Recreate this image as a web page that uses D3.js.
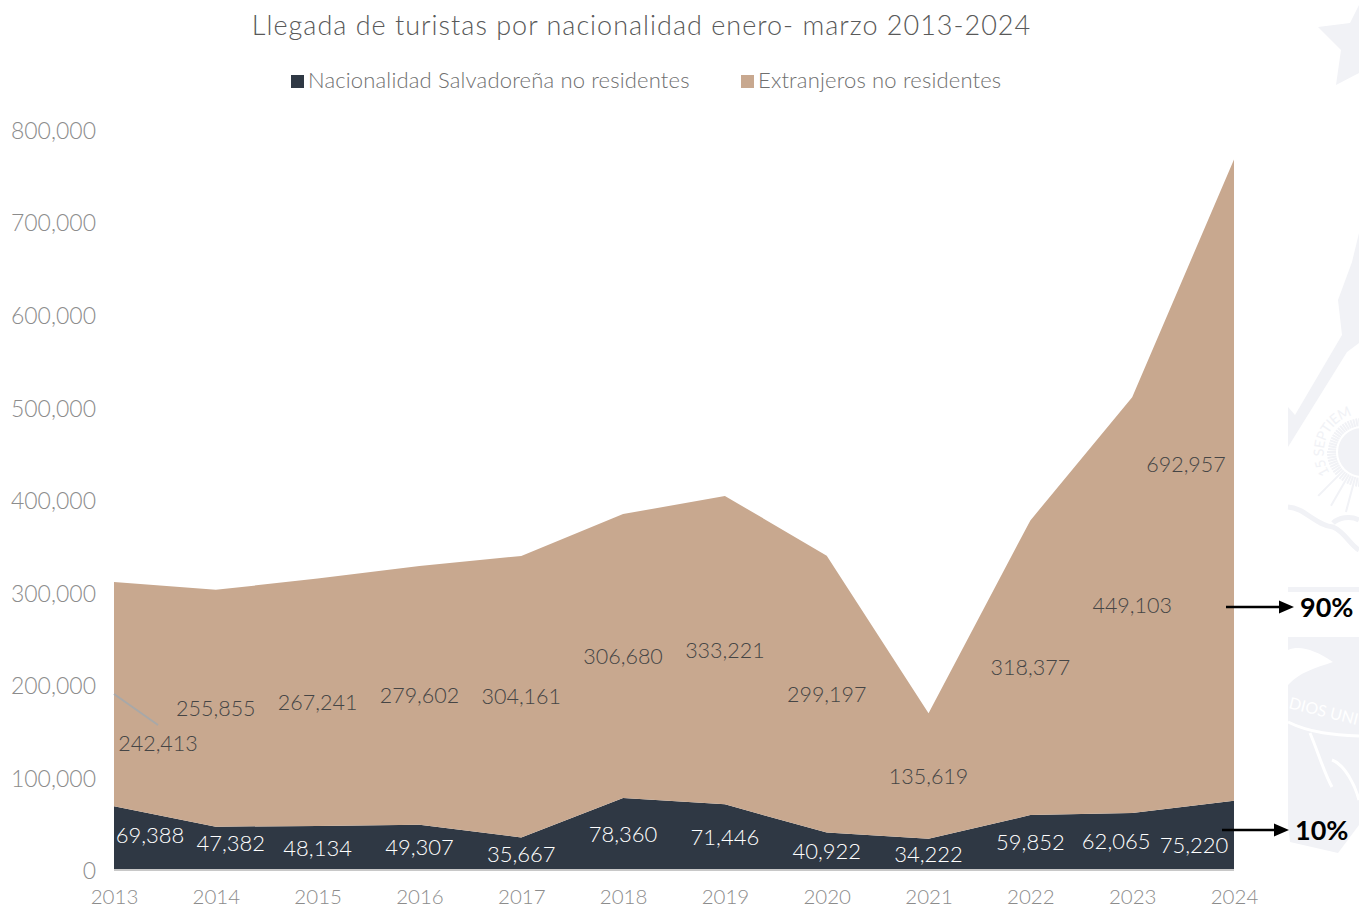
<!DOCTYPE html>
<html><head><meta charset="utf-8">
<script src="https://cdn.jsdelivr.net/npm/d3@7/dist/d3.min.js"></script>
<style>html,body{margin:0;padding:0;background:#fff}svg{display:block}text{font-family:Lato,sans-serif;font-weight:300}</style>
</head><body><svg id="c" width="1359" height="908"></svg>
<script>
const years=[2013,2014,2015,2016,2017,2018,2019,2020,2021,2022,2023,2024];
const salvadorenos=[69388,47382,48134,49307,35667,78360,71446,40922,34222,59852,62065,75220];
const extranjeros=[242413,255855,267241,279602,304161,306680,333221,299197,135619,318377,449103,692957];
const yTicks=[0,100000,200000,300000,400000,500000,600000,700000,800000];
const legendNames=["Nacionalidad Salvadoreña no residentes","Extranjeros no residentes"];
const titleText="Llegada de turistas por nacionalidad enero- marzo 2013-2024";
const shareLabels=["90%","10%"];

const svg=d3.select("#c");
const x=d3.scaleLinear().domain([2013,2024]).range([114,1234]);
const y=d3.scaleLinear().domain([0,800000]).range([870.5,130]);
const fmt=d3.format(",");
const W="#f1f2f6";

// watermark
const wm=svg.append("g");
const poly=(p,f)=>wm.append("path").attr("d",p).attr("fill",f||W);
poly("M1318,27L1350,23L1359,5V73L1336,85L1341,50Z");
poly("M1359,233L1352,262L1338,300L1342,335L1295,415L1288,407V447L1347,352L1359,343Z");
const sun=wm.append("g").attr("transform","translate(1362,452)");
sun.append("circle").attr("r",24).attr("fill",W);
d3.range(180,275,5).forEach(a=>{const r=a*Math.PI/180,o=(a<235&&a%15==0)?62:35;
 sun.append("line").attr("x1",26*Math.sin(r)).attr("y1",-26*Math.cos(r)).attr("x2",o*Math.sin(r)).attr("y2",-o*Math.cos(r)).attr("stroke",W).attr("stroke-width",2);});
d3.range(275,360,5).forEach(a=>{const r=a*Math.PI/180;
 sun.append("line").attr("x1",26*Math.sin(r)).attr("y1",-26*Math.cos(r)).attr("x2",34*Math.sin(r)).attr("y2",-34*Math.cos(r)).attr("stroke",W).attr("stroke-width",2);});
sun.append("path").attr("id","arc").attr("d","M-32,21A38,38 0 0 1 -7,-37.3").attr("fill","none");
sun.append("text").attr("font-size",14).attr("fill",W).style("font-weight",400).append("textPath").attr("href","#arc").attr("textLength",72).text("15 SEPTIEM");
wm.append("path").attr("d","M1288,507C1305,508 1315,525 1333,527C1345,532 1350,545 1359,550M1333,523C1338,518 1350,515 1359,520").attr("fill","none").attr("stroke",W).attr("stroke-width",5);
poly("M1288,587H1359V592H1288Z");
poly("M1288,637H1359V825L1338,853L1290,842L1288,825Z");
poly("M1288,650C1300,645 1315,650 1333,662C1315,668 1300,672 1288,685Z","#fff");
wm.append("path").attr("d","M1288,722C1310,733 1335,735 1359,736M1310,733C1318,752 1325,775 1332,787M1332,760C1345,765 1355,785 1359,800").attr("fill","none").attr("stroke","#fff").attr("stroke-width",3);
wm.append("text").attr("transform","translate(1288,708) rotate(14)").attr("font-size",16).attr("fill","#fff").style("font-weight",400).text("DIOS UNI");

// stacked areas
const rows=years.map((d,i)=>({year:d,a:salvadorenos[i],b:extranjeros[i]}));
const stack=d3.stack().keys(["a","b"])(rows);
const colors=["#2f3844","#c8a88f"];
const area=d3.area().x(d=>x(d.data.year)).y0(d=>y(d[0])).y1(d=>y(d[1]));
svg.append("g").selectAll("path").data(stack).join("path").attr("d",area).attr("fill",(d,i)=>colors[i]);
svg.append("line").attr("x1",x(2013)).attr("x2",x(2024)).attr("y1",870).attr("y2",870).attr("stroke","#c8c8c8").attr("stroke-width",2);

// axes
const yAxis=d3.axisLeft(y).tickValues(yTicks).tickFormat(fmt).tickSize(0).tickPadding(18);
const gy=svg.append("g").attr("transform","translate(114,1)").call(yAxis);
const xAxis=d3.axisBottom(x).tickValues(years).tickFormat(d3.format("d")).tickSize(0).tickPadding(19);
const gx=svg.append("g").attr("transform","translate(0,870)").call(xAxis);
gy.selectAll("text").attr("font-size",23);
gx.selectAll("text").attr("font-size",20.5);
[gy,gx].forEach(g=>{g.select(".domain").remove();g.selectAll("text").attr("fill","#8c8c8c").style("font-family","Lato").style("font-weight",300);});

// leader
svg.append("line").attr("x1",114).attr("y1",694).attr("x2",158).attr("y2",725).attr("stroke","#a8a8a8").attr("stroke-width",2);

// data labels: centre of each band, with the hand-moved ones nudged
const nudgeB={2013:[44,49],2024:[-48,-16]};
const nudgeA={2013:[36,-3],2014:[15,-5],2023:[-16,0],2024:[-40,10]};
const lab=(layer,col,nudge,fs)=>svg.append("g").selectAll("text").data(stack[layer]).join("text")
 .attr("x",d=>x(d.data.year)+(nudge[d.data.year]||[0,0])[0])
 .attr("y",d=>(y(d[0])+y(d[1]))/2+(nudge[d.data.year]||[0,0])[1])
 .attr("dy","0.35em").attr("text-anchor","middle").attr("font-size",fs).attr("fill",col)
 .text(d=>fmt(d[1]-d[0]));
lab(1,"#454545",nudgeB,21.5);
lab(0,"#ffffff",nudgeA,22);

// title, legend
svg.append("text").attr("x",641.5).attr("y",35).attr("text-anchor","middle").attr("font-size",27).attr("letter-spacing",1).attr("fill","#595959").text(titleText);
[[291,308],[741,758]].forEach((p,i)=>{
 svg.append("rect").attr("x",p[0]).attr("y",75).attr("width",13).attr("height",13).attr("fill",colors[i]);
 svg.append("text").attr("x",p[1]).attr("y",88).attr("font-size",22).attr("letter-spacing",0.17).attr("fill","#6f6f6f").text(legendNames[i]);
});

// share arrows
[[1226,1294,607,1300,shareLabels[0]],[1222,1289,830,1295,shareLabels[1]]].forEach(a=>{
 svg.append("line").attr("x1",a[0]).attr("x2",a[1]-10).attr("y1",a[2]).attr("y2",a[2]).attr("stroke","#000").attr("stroke-width",2.5);
 svg.append("path").attr("d",`M${a[1]},${a[2]}l-15,-6.5v13z`).attr("fill","#000");
 svg.append("text").attr("x",a[3]).attr("y",a[2]+10).attr("font-size",27).attr("fill","#000").style("font-weight",700).text(a[4]);
});
</script></body></html>
